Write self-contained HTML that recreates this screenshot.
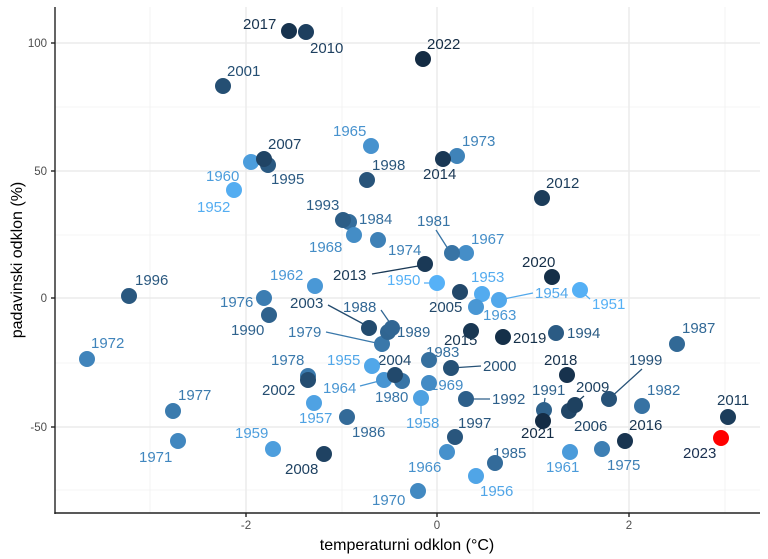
<!DOCTYPE html>
<html><head><meta charset="utf-8"><style>
html,body{margin:0;padding:0;background:#fff;}
svg{display:block;}
.l{font-family:"Liberation Sans",sans-serif;font-size:15px;}
</style></head><body>
<svg width="768" height="559" viewBox="0 0 768 559" xmlns="http://www.w3.org/2000/svg">
<rect width="768" height="559" fill="#fff"/>
<g stroke="#f0f0f0" stroke-width="0.8">
<line x1="150" y1="7" x2="150" y2="513"/><line x1="342" y1="7" x2="342" y2="513"/><line x1="533" y1="7" x2="533" y2="513"/><line x1="725" y1="7" x2="725" y2="513"/>
<line x1="55" y1="107" x2="760" y2="107"/><line x1="55" y1="235" x2="760" y2="235"/><line x1="55" y1="363" x2="760" y2="363"/><line x1="55" y1="490" x2="760" y2="490"/>
</g>
<g stroke="#ebebeb" stroke-width="1.5">
<line x1="246" y1="7" x2="246" y2="513"/><line x1="437" y1="7" x2="437" y2="513"/><line x1="629" y1="7" x2="629" y2="513"/>
<line x1="55" y1="43" x2="760" y2="43"/><line x1="55" y1="171" x2="760" y2="171"/><line x1="55" y1="298" x2="760" y2="298"/><line x1="55" y1="427" x2="760" y2="427"/>
</g>
<g stroke="#222" stroke-width="1.4">
<line x1="55" y1="7" x2="55" y2="514"/><line x1="54.3" y1="513" x2="760" y2="513"/>
<line x1="51" y1="43" x2="55" y2="43"/><line x1="51" y1="171" x2="55" y2="171"/><line x1="51" y1="298" x2="55" y2="298"/><line x1="51" y1="427" x2="55" y2="427"/>
<line x1="246" y1="513" x2="246" y2="517"/><line x1="437" y1="513" x2="437" y2="517"/><line x1="629" y1="513" x2="629" y2="517"/>
</g>
<g font-family="Liberation Sans, sans-serif" font-size="11.5" fill="#4d4d4d">
<text x="47" y="47" text-anchor="end">100</text><text x="47" y="175" text-anchor="end">50</text><text x="47" y="302" text-anchor="end">0</text><text x="47" y="431" text-anchor="end">-50</text>
<text x="246" y="529" text-anchor="middle">-2</text><text x="437" y="529" text-anchor="middle">0</text><text x="629" y="529" text-anchor="middle">2</text>
</g>
<text x="407" y="550" text-anchor="middle" font-family="Liberation Sans, sans-serif" font-size="16" fill="#000">temperaturni odklon (°C)</text>
<text transform="translate(22,260) rotate(-90)" text-anchor="middle" font-family="Liberation Sans, sans-serif" font-size="16" fill="#000">padavinski odklon (%)</text>

<style>
.y{--c:color-mix(in lab,#132B43 var(--p),#56B1F7);}
.y text{fill:var(--c);}
.y line{stroke:var(--c);stroke-width:1.3;}
.pt circle{fill:var(--c);}
</style>
<g class="l">
<g class="y" style="--p:93%"><text x="243" y="29">2017</text></g>
<g class="y" style="--p:83%"><text x="310" y="53">2010</text></g>
<g class="y" style="--p:100%"><text x="427" y="49">2022</text></g>
<g class="y" style="--p:71%"><text x="227" y="76">2001</text></g>
<g class="y" style="--p:21%"><text x="333" y="136">1965</text></g>
<g class="y" style="--p:79%"><text x="268" y="149">2007</text></g>
<g class="y" style="--p:14%"><text x="206" y="181">1960</text></g>
<g class="y" style="--p:63%"><text x="271" y="184">1995</text></g>
<g class="y" style="--p:3%"><text x="197" y="212">1952</text></g>
<g class="y" style="--p:67%"><text x="372" y="170">1998</text></g>
<g class="y" style="--p:60%"><text x="306" y="210">1993</text></g>
<g class="y" style="--p:47%"><text x="359" y="224">1984</text></g>
<g class="y" style="--p:25%"><text x="309" y="252">1968</text></g>
<g class="y" style="--p:33%"><text x="388" y="255">1974</text></g>
<g class="y" style="--p:89%"><text x="423" y="179">2014</text></g>
<g class="y" style="--p:32%"><text x="462" y="146">1973</text></g>
<g class="y" style="--p:86%"><text x="546" y="188">2012</text></g>
<g class="y" style="--p:43%"><text x="417" y="226">1981</text><line x1="436" y1="230" x2="450" y2="252"/></g>
<g class="y" style="--p:24%"><text x="471" y="244">1967</text></g>
<g class="y" style="--p:88%"><text x="333" y="280">2013</text><line x1="372" y1="274" x2="424" y2="265"/></g>
<g class="y" style="--p:0%"><text x="387" y="285">1950</text><line x1="424" y1="283" x2="430" y2="283"/></g>
<g class="y" style="--p:76%"><text x="429" y="312">2005</text></g>
<g class="y" style="--p:4%"><text x="471" y="282">1953</text></g>
<g class="y" style="--p:17%"><text x="270" y="280">1962</text></g>
<g class="y" style="--p:18%"><text x="483" y="320">1963</text></g>
<g class="y" style="--p:6%"><text x="535" y="298">1954</text><line x1="499" y1="300" x2="533" y2="293"/></g>
<g class="y" style="--p:1%"><text x="592" y="309">1951</text><line x1="582" y1="292" x2="590" y2="299"/></g>
<g class="y" style="--p:97%"><text x="522" y="267">2020</text></g>
<g class="y" style="--p:74%"><text x="290" y="308">2003</text><line x1="328" y1="305" x2="369" y2="327"/></g>
<g class="y" style="--p:53%"><text x="343" y="312">1988</text><line x1="381" y1="310" x2="390" y2="323"/></g>
<g class="y" style="--p:54%"><text x="397" y="337">1989</text></g>
<g class="y" style="--p:40%"><text x="288" y="337">1979</text><line x1="326" y1="332" x2="381" y2="344"/></g>
<g class="y" style="--p:36%"><text x="220" y="307">1976</text></g>
<g class="y" style="--p:56%"><text x="231" y="335">1990</text></g>
<g class="y" style="--p:64%"><text x="135" y="285">1996</text></g>
<g class="y" style="--p:31%"><text x="91" y="348">1972</text></g>
<g class="y" style="--p:39%"><text x="271" y="365">1978</text></g>
<g class="y" style="--p:72%"><text x="262" y="395">2002</text></g>
<g class="y" style="--p:7%"><text x="327" y="365">1955</text></g>
<g class="y" style="--p:75%"><text x="378" y="365">2004</text></g>
<g class="y" style="--p:19%"><text x="323" y="393">1964</text><line x1="360" y1="386" x2="383" y2="380"/></g>
<g class="y" style="--p:42%"><text x="375" y="402">1980</text></g>
<g class="y" style="--p:10%"><text x="299" y="423">1957</text></g>
<g class="y" style="--p:50%"><text x="352" y="437">1986</text></g>
<g class="y" style="--p:38%"><text x="178" y="400">1977</text></g>
<g class="y" style="--p:29%"><text x="139" y="462">1971</text></g>
<g class="y" style="--p:13%"><text x="235" y="438">1959</text></g>
<g class="y" style="--p:81%"><text x="285" y="474">2008</text></g>
<g class="y" style="--p:28%"><text x="372" y="505">1970</text></g>
<g class="y" style="--p:22%"><text x="408" y="472">1966</text></g>
<g class="y" style="--p:65%"><text x="458" y="428">1997</text></g>
<g class="y" style="--p:49%"><text x="493" y="458">1985</text></g>
<g class="y" style="--p:8%"><text x="480" y="496">1956</text></g>
<g class="y" style="--p:46%"><text x="426" y="357">1983</text></g>
<g class="y" style="--p:69%"><text x="483" y="371">2000</text><line x1="451" y1="368" x2="481" y2="366"/></g>
<g class="y" style="--p:26%"><text x="430" y="390">1969</text></g>
<g class="y" style="--p:11%"><text x="406" y="428">1958</text><line x1="421" y1="400" x2="421" y2="414"/></g>
<g class="y" style="--p:58%"><text x="492" y="404">1992</text><line x1="466" y1="399" x2="490" y2="399"/></g>
<g class="y" style="--p:90%"><text x="444" y="345">2015</text></g>
<g class="y" style="--p:96%"><text x="513" y="343">2019</text></g>
<g class="y" style="--p:61%"><text x="567" y="338">1994</text></g>
<g class="y" style="--p:94%"><text x="544" y="365">2018</text></g>
<g class="y" style="--p:57%"><text x="532" y="395">1991</text><line x1="545" y1="398" x2="544" y2="405"/></g>
<g class="y" style="--p:99%"><text x="521" y="438">2021</text></g>
<g class="y" style="--p:82%"><text x="576" y="392">2009</text><line x1="584" y1="396" x2="577" y2="402"/></g>
<g class="y" style="--p:78%"><text x="574" y="431">2006</text></g>
<g class="y" style="--p:68%"><text x="629" y="365">1999</text><line x1="642" y1="369" x2="609" y2="399"/></g>
<g class="y" style="--p:44%"><text x="647" y="395">1982</text></g>
<g class="y" style="--p:51%"><text x="682" y="333">1987</text></g>
<g class="y" style="--p:85%"><text x="717" y="405">2011</text></g>
<g><text x="683" y="458" fill="#1a3050">2023</text></g>
<g class="y" style="--p:92%"><text x="629" y="430">2016</text></g>
<g class="y" style="--p:35%"><text x="607" y="470">1975</text></g>
<g class="y" style="--p:15%"><text x="546" y="472">1961</text></g>
</g>
<g>
<g class="y pt" style="--p:93%"><circle cx="289" cy="31" r="8"/></g>
<g class="y pt" style="--p:83%"><circle cx="306" cy="32" r="8"/></g>
<g class="y pt" style="--p:100%"><circle cx="423" cy="59" r="8"/></g>
<g class="y pt" style="--p:71%"><circle cx="223" cy="86" r="8"/></g>
<g class="y pt" style="--p:21%"><circle cx="371" cy="146" r="8"/></g>
<g class="y pt" style="--p:14%"><circle cx="251" cy="162" r="8"/></g>
<g class="y pt" style="--p:63%"><circle cx="268" cy="165" r="8"/></g>
<g class="y pt" style="--p:79%"><circle cx="264" cy="159" r="8"/></g>
<g class="y pt" style="--p:3%"><circle cx="234" cy="190" r="8"/></g>
<g class="y pt" style="--p:67%"><circle cx="367" cy="180" r="8"/></g>
<g class="y pt" style="--p:47%"><circle cx="349" cy="222" r="8"/></g>
<g class="y pt" style="--p:60%"><circle cx="343" cy="220" r="8"/></g>
<g class="y pt" style="--p:25%"><circle cx="354" cy="235" r="8"/></g>
<g class="y pt" style="--p:33%"><circle cx="378" cy="240" r="8"/></g>
<g class="y pt" style="--p:32%"><circle cx="457" cy="156" r="8"/></g>
<g class="y pt" style="--p:89%"><circle cx="443" cy="159" r="8"/></g>
<g class="y pt" style="--p:86%"><circle cx="542" cy="198" r="8"/></g>
<g class="y pt" style="--p:24%"><circle cx="466" cy="253" r="8"/></g>
<g class="y pt" style="--p:43%"><circle cx="452" cy="253" r="8"/></g>
<g class="y pt" style="--p:88%"><circle cx="425" cy="264" r="8"/></g>
<g class="y pt" style="--p:0%"><circle cx="437" cy="283" r="8"/></g>
<g class="y pt" style="--p:76%"><circle cx="460" cy="292" r="8"/></g>
<g class="y pt" style="--p:4%"><circle cx="482" cy="294" r="8"/></g>
<g class="y pt" style="--p:18%"><circle cx="476" cy="307" r="8"/></g>
<g class="y pt" style="--p:6%"><circle cx="499" cy="300" r="8"/></g>
<g class="y pt" style="--p:1%"><circle cx="580" cy="290" r="8"/></g>
<g class="y pt" style="--p:97%"><circle cx="552" cy="277" r="8"/></g>
<g class="y pt" style="--p:17%"><circle cx="315" cy="286" r="8"/></g>
<g class="y pt" style="--p:36%"><circle cx="264" cy="298" r="8"/></g>
<g class="y pt" style="--p:56%"><circle cx="269" cy="315" r="8"/></g>
<g class="y pt" style="--p:64%"><circle cx="129" cy="296" r="8"/></g>
<g class="y pt" style="--p:31%"><circle cx="87" cy="359" r="8"/></g>
<g class="y pt" style="--p:74%"><circle cx="369" cy="328" r="8"/></g>
<g class="y pt" style="--p:40%"><circle cx="382" cy="344" r="8"/></g>
<g class="y pt" style="--p:54%"><circle cx="388" cy="332" r="8"/></g>
<g class="y pt" style="--p:53%"><circle cx="392" cy="328" r="8"/></g>
<g class="y pt" style="--p:39%"><circle cx="308" cy="376" r="8"/></g>
<g class="y pt" style="--p:72%"><circle cx="308" cy="380" r="8"/></g>
<g class="y pt" style="--p:7%"><circle cx="372" cy="366" r="8"/></g>
<g class="y pt" style="--p:19%"><circle cx="384" cy="380" r="8"/></g>
<g class="y pt" style="--p:42%"><circle cx="402" cy="381" r="8"/></g>
<g class="y pt" style="--p:75%"><circle cx="395" cy="375" r="8"/></g>
<g class="y pt" style="--p:10%"><circle cx="314" cy="403" r="8"/></g>
<g class="y pt" style="--p:50%"><circle cx="347" cy="417" r="8"/></g>
<g class="y pt" style="--p:38%"><circle cx="173" cy="411" r="8"/></g>
<g class="y pt" style="--p:29%"><circle cx="178" cy="441" r="8"/></g>
<g class="y pt" style="--p:13%"><circle cx="273" cy="449" r="8"/></g>
<g class="y pt" style="--p:81%"><circle cx="324" cy="454" r="8"/></g>
<g class="y pt" style="--p:28%"><circle cx="418" cy="491" r="8"/></g>
<g class="y pt" style="--p:22%"><circle cx="447" cy="452" r="8"/></g>
<g class="y pt" style="--p:65%"><circle cx="455" cy="437" r="8"/></g>
<g class="y pt" style="--p:49%"><circle cx="495" cy="463" r="8"/></g>
<g class="y pt" style="--p:8%"><circle cx="476" cy="476" r="8"/></g>
<g class="y pt" style="--p:46%"><circle cx="429" cy="360" r="8"/></g>
<g class="y pt" style="--p:69%"><circle cx="451" cy="368" r="8"/></g>
<g class="y pt" style="--p:26%"><circle cx="429" cy="383" r="8"/></g>
<g class="y pt" style="--p:11%"><circle cx="421" cy="398" r="8"/></g>
<g class="y pt" style="--p:58%"><circle cx="466" cy="399" r="8"/></g>
<g class="y pt" style="--p:90%"><circle cx="471" cy="331" r="8"/></g>
<g class="y pt" style="--p:96%"><circle cx="503" cy="337" r="8"/></g>
<g class="y pt" style="--p:61%"><circle cx="556" cy="333" r="8"/></g>
<g class="y pt" style="--p:94%"><circle cx="567" cy="375" r="8"/></g>
<g class="y pt" style="--p:57%"><circle cx="544" cy="410" r="8"/></g>
<g class="y pt" style="--p:99%"><circle cx="543" cy="421" r="8"/></g>
<g class="y pt" style="--p:78%"><circle cx="569" cy="411" r="8"/></g>
<g class="y pt" style="--p:82%"><circle cx="575" cy="405" r="8"/></g>
<g class="y pt" style="--p:68%"><circle cx="609" cy="399" r="8"/></g>
<g class="y pt" style="--p:44%"><circle cx="642" cy="406" r="8"/></g>
<g class="y pt" style="--p:51%"><circle cx="677" cy="344" r="8"/></g>
<g class="y pt" style="--p:85%"><circle cx="728" cy="417" r="8"/></g>
<circle cx="721" cy="438" r="8" fill="#ff0000"/>
<g class="y pt" style="--p:92%"><circle cx="625" cy="441" r="8"/></g>
<g class="y pt" style="--p:35%"><circle cx="602" cy="449" r="8"/></g>
<g class="y pt" style="--p:15%"><circle cx="570" cy="452" r="8"/></g>
</g>
</svg>
</body></html>
